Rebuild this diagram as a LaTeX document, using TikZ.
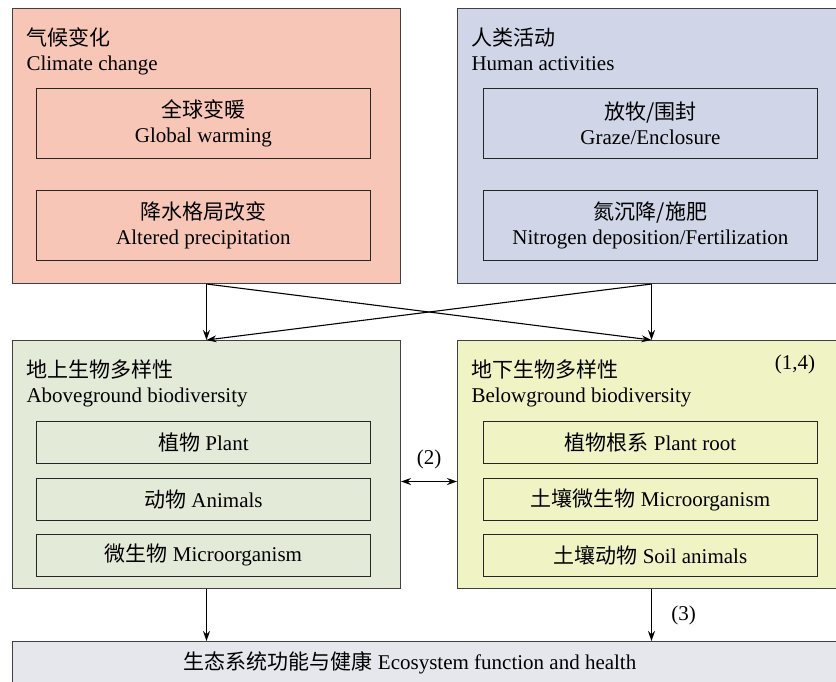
\documentclass[tikz,border=0pt]{standalone}
\usepackage{fontspec}
\setmainfont{Liberation Serif}
\newfontfamily\cjk{Noto Sans CJK SC}
\newcommand{\zh}[1]{{\cjk #1}}
\usetikzlibrary{positioning, arrows.meta}
\definecolor{climfill}{RGB}{247,198,183}
\definecolor{humfill}{RGB}{208,214,232}
\definecolor{abovefill}{RGB}{228,234,216}
\definecolor{belowfill}{RGB}{240,243,196}
\definecolor{ecofill}{RGB}{230,231,236}
\tikzset{
  ->,
  >={Stealth[length=10pt,width=7pt]},
  group/.style={draw=black!75, line width=1pt, anchor=north west,
    minimum width=388pt, minimum height=275pt},
  item/.style={draw=black!85, line width=0.8pt, anchor=north west,
    minimum width=334pt, minimum height=70pt, align=center, inner sep=0pt},
  small item/.style={item, minimum height=42pt},
  title/.style={anchor=north west, inner sep=0pt, align=left},
}

\begin{document}
\begin{tikzpicture}[x=1pt, y=-1pt, line width=1.1pt, font=\fontsize{21}{25}\selectfont]
  \useasboundingbox (0,0) rectangle (836,681);
  % drivers
  \node[group, fill=climfill] (clim) at (12,8) {};
  \node[group, fill=humfill] (hum) at (457,8) {};
  \node[title, below right=19pt and 14pt of clim.north west] (climT) {\zh{气候变化}\\Climate change};
  \node[title, below right=19pt and 14pt of hum.north west] (humT) {\zh{人类活动}\\Human activities};
  \node[item] (warm) at (36,88) {\zh{全球变暖}\\Global warming};
  \node[item] (prec) at (36,190) {\zh{降水格局改变}\\Altered precipitation};
  \node[item] (graze) at (483,88) {\zh{放牧/围封}\\Graze/Enclosure};
  \node[item] (nitro) at (483,190) {\zh{氮沉降/施肥}\\Nitrogen deposition/Fertilization};
  % biodiversity
  \node[group, fill=abovefill, minimum height=248pt] (above) at (12,340) {};
  \node[group, fill=belowfill, minimum height=248pt] (below) at (457,340) {};
  \node[title, below right=19pt and 14pt of above.north west] (aboveT) {\zh{地上生物多样性}\\Aboveground biodiversity};
  \node[title, below right=19pt and 14pt of below.north west] (belowT) {\zh{地下生物多样性}\\Belowground biodiversity};
  \node (refA) at (795,364) {(1,4)};
  \node[small item] (plant) at (36,421) {\zh{植物} Plant};
  \node[small item] (anim) at (36,478) {\zh{动物} Animals};
  \node[small item] (micro) at (36,534) {\zh{微生物} Microorganism};
  \node[small item] (root) at (483,421) {\zh{植物根系} Plant root};
  \node[small item] (smicro) at (483,478) {\zh{土壤微生物} Microorganism};
  \node[small item] (sanim) at (483,534) {\zh{土壤动物} Soil animals};
  % ecosystem
  \node[group, fill=ecofill, minimum width=833pt, minimum height=60pt] (eco) at (12,641) {};
  \node (ecoT) at (410,663) {\zh{生态系统功能与健康} Ecosystem function and health};
  \draw (clim.south) -- (above.north);
  \draw (clim.south) -- (below.north);
  \draw (hum.south) -- (below.north);
  \draw (hum.south) -- (above.north);
  \draw[<->] ([yshift=-17pt]above.east) -- node[above=9pt] {(2)} ([yshift=-17pt]below.west);
  \draw (above.south) -- (above.south |- eco.north);
  \draw (below.south) -- node[right=16pt] {(3)} (below.south |- eco.north);
\end{tikzpicture}
\end{document}
